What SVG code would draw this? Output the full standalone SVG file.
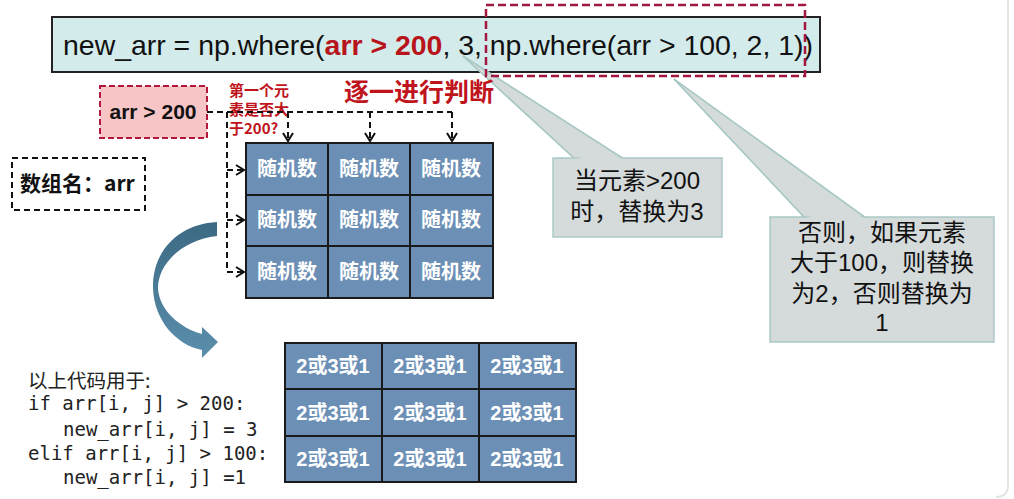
<svg xmlns="http://www.w3.org/2000/svg" width="1014" height="499" viewBox="0 0 1014 499">
<defs>
<style>
.cjk{font-family:"Noto Sans CJK SC","Noto Sans",sans-serif}
.lat{font-family:"Liberation Sans","Noto Sans CJK SC",sans-serif}
.cell{fill:#6c8fb5;stroke:#1a1a1a;stroke-width:2}
.ct{font-family:"Liberation Sans","Noto Sans CJK SC",sans-serif;font-weight:bold;fill:#fff;font-size:20px;text-anchor:middle}
.callout{fill:#d5dada;stroke:#a9c9c6;stroke-width:1.5}
.ctxt{font-family:"Liberation Sans","Noto Sans CJK SC",sans-serif;font-size:24px;fill:#111;text-anchor:middle}
.dash{fill:none;stroke:#111;stroke-width:2;stroke-dasharray:6 4}
.code{font-family:"DejaVu Sans Mono","Liberation Mono",monospace;font-size:19px;fill:#222}
</style>
<marker id="ah" markerUnits="userSpaceOnUse" markerWidth="14" markerHeight="14" refX="9" refY="6" orient="auto">
<path d="M1,1 L9,6 L1,11" fill="none" stroke="#111" stroke-width="2"/>
</marker>
<linearGradient id="cg" x1="0" y1="0" x2="0" y2="1">
<stop offset="0" stop-color="#3c6983"/>
<stop offset="1" stop-color="#5a8fac"/>
</linearGradient>
</defs>
<rect width="1014" height="499" fill="#fff"/>
<path d="M1008,0 L1008,485 Q1008,497 996,497" fill="none" stroke="#e4e4e4" stroke-width="2"/>

<g id="formula">
<rect x="52" y="17" width="768" height="55" fill="#d4ebeb" stroke="#222" stroke-width="2"/>
<text class="lat" x="63" y="55" font-size="28.5" fill="#111" textLength="750" lengthAdjust="spacingAndGlyphs">new_arr = np.where(<tspan font-weight="bold" fill="#b8141c">arr &gt; 200</tspan>, 3, np.where(arr &gt; 100, 2, 1))</text>
</g>

<g id="callout1">
<polygon points="463,56 575,159 624,159" class="callout" stroke="none"/>
<path d="M463,56 L575,159 M463,56 L624,159" fill="none" stroke="#a9c9c6" stroke-width="1.2"/>
<rect x="553" y="158" width="169" height="79" class="callout"/>
<polygon points="576,159 623,159 600,150" fill="#d5dada"/>
<text class="ctxt"><tspan x="637" y="189">当元素&gt;200</tspan><tspan x="637" y="220">时，替换为3</tspan></text>
</g>

<g id="highlight">
<rect x="486" y="5" width="319" height="71" fill="none" stroke="#a3173f" stroke-width="2.5" stroke-dasharray="8 4"/>
</g>

<g id="callout2">
<polygon points="674,79 805,218 866,218" class="callout" stroke="none"/>
<path d="M674,79 L805,218 M674,79 L866,218" fill="none" stroke="#a9c9c6" stroke-width="1.2"/>
<rect x="770" y="217" width="224" height="125" class="callout"/>
<polygon points="806,218 865,218 835,208" fill="#d5dada"/>
<text class="ctxt"><tspan x="882" y="241">否则，如果元素</tspan><tspan x="882" y="271">大于100，则替换</tspan><tspan x="882" y="302">为2，否则替换为</tspan><tspan x="882" y="331">1</tspan></text>
</g>

<g id="cond">
<rect x="100" y="86" width="107" height="52" fill="#f7c5c6" stroke="#b3173c" stroke-width="2" stroke-dasharray="6 3"/>
<text class="lat" x="153" y="119" font-size="21" font-weight="bold" fill="#111" text-anchor="middle">arr &gt; 200</text>
</g>

<g id="arrname">
<rect x="12" y="158" width="133" height="52" fill="#fff" stroke="#111" stroke-width="2" stroke-dasharray="6 4"/>
<text class="cjk" x="20" y="191" font-size="21" font-weight="bold" fill="#111">数组名：arr</text>
</g>

<g id="labels">
<text class="cjk" font-size="15" font-weight="bold" fill="#c0141c"><tspan x="229" y="96">第一个元</tspan><tspan x="229" y="115">素是否大</tspan><tspan x="229" y="134">于200?</tspan></text>
<text class="cjk" x="344" y="101" font-size="25" font-weight="bold" fill="#c0141c">逐一进行判断</text>
</g>

<g id="connectors">
<path class="dash" d="M207,112 H452"/>
<path class="dash" d="M288,112 V141" marker-end="url(#ah)"/>
<path class="dash" d="M370,112 V141" marker-end="url(#ah)"/>
<path class="dash" d="M452,112 V141" marker-end="url(#ah)"/>
<path class="dash" d="M227,112 V272"/>
<path class="dash" d="M227,170 H244" marker-end="url(#ah)"/>
<path class="dash" d="M227,220 H244" marker-end="url(#ah)"/>
<path class="dash" d="M227,272 H244" marker-end="url(#ah)"/>
<path d="M217,222 C178,224 152,252 153,288 C154,320 176,345 202,350 L202,358 L218,342 L202,327 L202,334 C180,328 159,310 158,288 C158,264 182,240 217,236 Z" fill="url(#cg)"/>
</g>

<g id="grid1">
<rect class="cell" x="246" y="143" width="82" height="52"/>
<rect class="cell" x="328" y="143" width="82" height="52"/>
<rect class="cell" x="410" y="143" width="83" height="52"/>
<rect class="cell" x="246" y="195" width="82" height="51"/>
<rect class="cell" x="328" y="195" width="82" height="51"/>
<rect class="cell" x="410" y="195" width="83" height="51"/>
<rect class="cell" x="246" y="246" width="82" height="52"/>
<rect class="cell" x="328" y="246" width="82" height="52"/>
<rect class="cell" x="410" y="246" width="83" height="52"/>
<text class="ct" x="287" y="176">随机数</text>
<text class="ct" x="369" y="176">随机数</text>
<text class="ct" x="451" y="176">随机数</text>
<text class="ct" x="287" y="227">随机数</text>
<text class="ct" x="369" y="227">随机数</text>
<text class="ct" x="451" y="227">随机数</text>
<text class="ct" x="287" y="279">随机数</text>
<text class="ct" x="369" y="279">随机数</text>
<text class="ct" x="451" y="279">随机数</text>
</g>

<g id="grid2">
<rect class="cell" x="285" y="343" width="97" height="46"/>
<rect class="cell" x="382" y="343" width="97" height="46"/>
<rect class="cell" x="479" y="343" width="97" height="46"/>
<rect class="cell" x="285" y="389" width="97" height="47"/>
<rect class="cell" x="382" y="389" width="97" height="47"/>
<rect class="cell" x="479" y="389" width="97" height="47"/>
<rect class="cell" x="285" y="436" width="97" height="46"/>
<rect class="cell" x="382" y="436" width="97" height="46"/>
<rect class="cell" x="479" y="436" width="97" height="46"/>
<text class="ct" x="333" y="373">2或3或1</text>
<text class="ct" x="430" y="373">2或3或1</text>
<text class="ct" x="527" y="373">2或3或1</text>
<text class="ct" x="333" y="420">2或3或1</text>
<text class="ct" x="430" y="420">2或3或1</text>
<text class="ct" x="527" y="420">2或3或1</text>
<text class="ct" x="333" y="466">2或3或1</text>
<text class="ct" x="430" y="466">2或3或1</text>
<text class="ct" x="527" y="466">2或3或1</text>
</g>

<g id="code">
<text class="cjk" x="28" y="388" font-size="19.5" fill="#222">以上代码用于:</text>
<text class="code" x="28" y="410">if arr[i, j] &gt; 200:</text>
<text class="code" x="63" y="436">new_arr[i, j] = 3</text>
<text class="code" x="28" y="460">elif arr[i, j] &gt; 100:</text>
<text class="code" x="63" y="484">new_arr[i, j] =1</text>
</g>
</svg>
